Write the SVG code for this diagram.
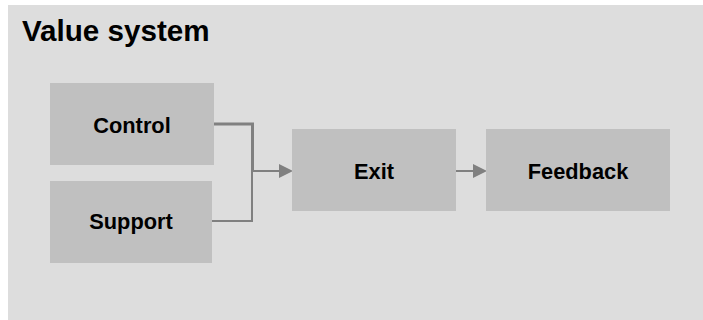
<svg xmlns="http://www.w3.org/2000/svg" width="703" height="320" viewBox="0 0 703 320">
<style>
.node rect{fill:#c0c0c0}
.lbl{font-family:"Liberation Sans",Arial,sans-serif;font-weight:bold;font-size:21.8px;fill:#000;text-anchor:middle}
.title{font-family:"Liberation Sans",Arial,sans-serif;font-weight:bold;font-size:29.6px;fill:#000}
.conn{fill:none;stroke:#808080}
.head{fill:#808080}
</style>
<rect x="0" y="0" width="703" height="320" fill="#ffffff"/>
<rect x="8" y="5" width="695" height="315" fill="#dddddd"/>
<text class="title" x="22" y="41">Value system</text>
<g id="connectors">
<path class="conn" stroke-width="3" d="M213,124 H252.5 V171"/>
<path class="conn" stroke-width="2" d="M212,221 H252 V171"/>
<path class="conn" stroke-width="2" d="M252,171 H280"/>
<polygon class="head" points="279,164 293,171 279,178"/>
<path class="conn" stroke-width="2" d="M456,171 H474"/>
<polygon class="head" points="473,164 487,171 473,178"/>
</g>
<g id="control" class="node"><rect x="50" y="83" width="164" height="82"/><text class="lbl" x="132" y="133">Control</text></g>
<g id="support" class="node"><rect x="50" y="181" width="162" height="82"/><text class="lbl" x="131" y="229">Support</text></g>
<g id="exit" class="node"><rect x="292" y="129" width="164" height="82"/><text class="lbl" x="374" y="179">Exit</text></g>
<g id="feedback" class="node"><rect x="486" y="129" width="184" height="82"/><text class="lbl" x="578" y="179">Feedback</text></g>
</svg>
